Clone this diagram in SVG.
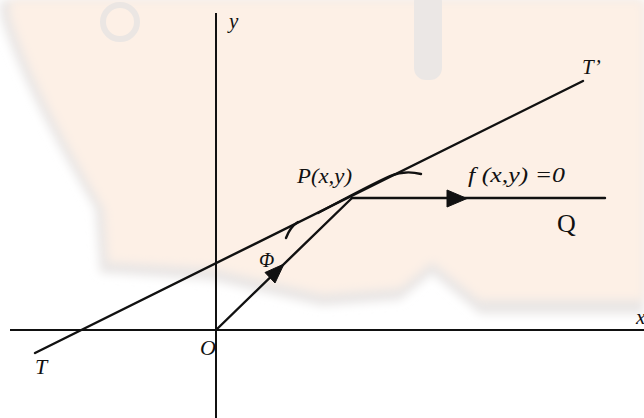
<svg xmlns="http://www.w3.org/2000/svg" width="644" height="418" viewBox="0 0 644 418">
<style>
.ax{stroke:#111;stroke-width:2;fill:none}
.ln{stroke:#111;stroke-width:2.4;fill:none;stroke-linecap:round}
.ah{fill:#111;stroke:#111;stroke-width:1;stroke-linejoin:round}
.lb{font-family:"Liberation Serif","Times New Roman",serif;font-style:italic;fill:#111}
.up{font-family:"Liberation Serif","Times New Roman",serif;fill:#111}
.wm{fill:#ebe7e5}
</style>
<defs>
<filter id="blur" x="-10%" y="-10%" width="120%" height="120%"><feGaussianBlur stdDeviation="5"/></filter>
</defs>
<rect width="644" height="418" fill="#ffffff"/>
<g id="watermark">
<path d="M 0,0 L 644,0 L 644,314 L 480,314 L 432,274 L 400,300 L 322,306 L 210,280 L 100,273 L 95,209 C 60,150 20,80 0,15 Z" fill="#e9e6e5" filter="url(#blur)"/>
<path d="M 0,0 L 644,0 L 644,300 L 480,300 L 432,262 L 400,288 L 322,294 L 210,268 L 108,262 L 104,209 C 70,150 30,80 10,15 L 10,0 Z" fill="#fdf0e6" filter="url(#blur)"/>
<circle cx="120" cy="22" r="17" fill="none" stroke="#ebe6e3" stroke-width="6"/>
<rect class="wm" x="414" y="-10" width="28" height="90" rx="12"/>
</g>
<g id="connectors">
<line class="ax" x1="216" y1="13" x2="216" y2="418"/>
<line class="ax" x1="10" y1="330" x2="644" y2="330"/>
<line class="ln" x1="35" y1="353" x2="583" y2="81"/>
<line class="ln" x1="216" y1="330" x2="352" y2="198"/>
<line class="ln" x1="352" y1="198" x2="605" y2="198"/>
<polygon class="ah" points="447,190 467,198.5 447,207"/>
<polygon class="ah" points="284,264 265,272.5 275,283"/>
<path class="ln" stroke-width="3" d="M 298,222 Q 290,227 286,238"/>
<path class="ln" stroke-width="2.8" d="M 318,213 Q 372,184 390,176 Q 405,170 421,174"/>
</g>
<g id="labels">
<text class="lb" x="229" y="28" font-size="21">y</text>
<text class="lb" x="582" y="74" font-size="21">T’</text>
<text class="lb" x="297" y="183" font-size="20" textLength="55" lengthAdjust="spacingAndGlyphs">P(x,y)</text>
<text class="lb" x="468" y="182" font-size="20" textLength="97" lengthAdjust="spacingAndGlyphs">f (x,y) =0</text>
<text class="up" x="557" y="232" font-size="26">Q</text>
<text class="lb" x="259" y="267" font-size="20">Φ</text>
<text class="lb" x="200" y="355" font-size="22">O</text>
<text class="lb" x="35" y="374" font-size="22">T</text>
<text class="lb" x="636" y="324" font-size="21">x</text>
</g>
</svg>
